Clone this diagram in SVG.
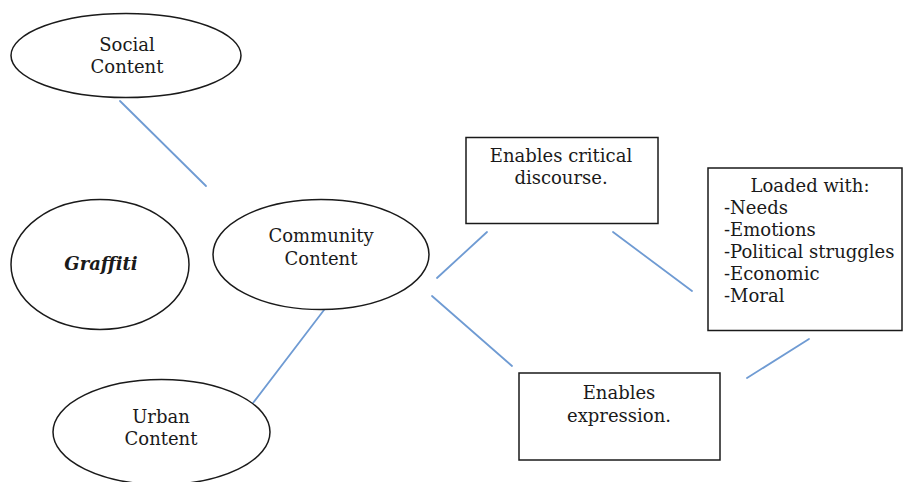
<svg xmlns="http://www.w3.org/2000/svg" width="903" height="482" viewBox="0 0 903 482">
  <style>
    .node { fill: #ffffff; stroke: #1a1a1a; stroke-width: 1.5; }
    .label { font-family: "DejaVu Serif", "Liberation Serif", serif; font-size: 18px; fill: #1a1a1a; }
    .mid { text-anchor: middle; }
    .link { stroke: #6f9bd3; stroke-width: 1.8; fill: none; stroke-linecap: round; }
  </style>
  <rect x="0" y="0" width="903" height="482" fill="#ffffff"/>

  <g id="connectors">
    <line class="link" x1="120" y1="101" x2="206" y2="186"/>
    <line class="link" x1="324" y1="310" x2="253" y2="403"/>
    <line class="link" x1="437" y1="278" x2="487" y2="232"/>
    <line class="link" x1="432" y1="296" x2="512" y2="366"/>
    <line class="link" x1="613" y1="232" x2="692" y2="291"/>
    <line class="link" x1="747" y1="378" x2="809" y2="339"/>
  </g>

  <g id="social-content">
    <ellipse class="node" cx="126" cy="55.5" rx="115" ry="42"/>
    <text class="label mid" x="127" y="50.5">Social</text>
    <text class="label mid" x="127" y="72.5">Content</text>
  </g>

  <g id="graffiti">
    <ellipse class="node" cx="100" cy="264.5" rx="89" ry="65"/>
    <text class="label mid" x="101" y="270" font-weight="bold" font-style="italic">Graffiti</text>
  </g>

  <g id="community-content">
    <ellipse class="node" cx="321" cy="254.5" rx="108" ry="55"/>
    <text class="label mid" x="321" y="242">Community</text>
    <text class="label mid" x="321" y="265">Content</text>
  </g>

  <g id="urban-content">
    <ellipse class="node" cx="161.5" cy="432" rx="108.5" ry="52.5"/>
    <text class="label mid" x="161" y="422.5">Urban</text>
    <text class="label mid" x="161" y="445">Content</text>
  </g>

  <g id="critical-discourse">
    <rect class="node" x="466" y="137.5" width="192" height="86"/>
    <text class="label mid" x="561" y="162">Enables critical</text>
    <text class="label mid" x="561" y="184">discourse.</text>
  </g>

  <g id="loaded-with">
    <rect class="node" x="708" y="168" width="194" height="162.5"/>
    <text class="label mid" x="810" y="192">Loaded with:</text>
    <text class="label" x="724" y="214">-Needs</text>
    <text class="label" x="724" y="236">-Emotions</text>
    <text class="label" x="724" y="258">-Political struggles</text>
    <text class="label" x="724" y="280">-Economic</text>
    <text class="label" x="724" y="302">-Moral</text>
  </g>

  <g id="enables-expression">
    <rect class="node" x="519" y="373" width="201" height="87"/>
    <text class="label mid" x="619" y="399">Enables</text>
    <text class="label mid" x="619" y="421.5">expression.</text>
  </g>
</svg>
